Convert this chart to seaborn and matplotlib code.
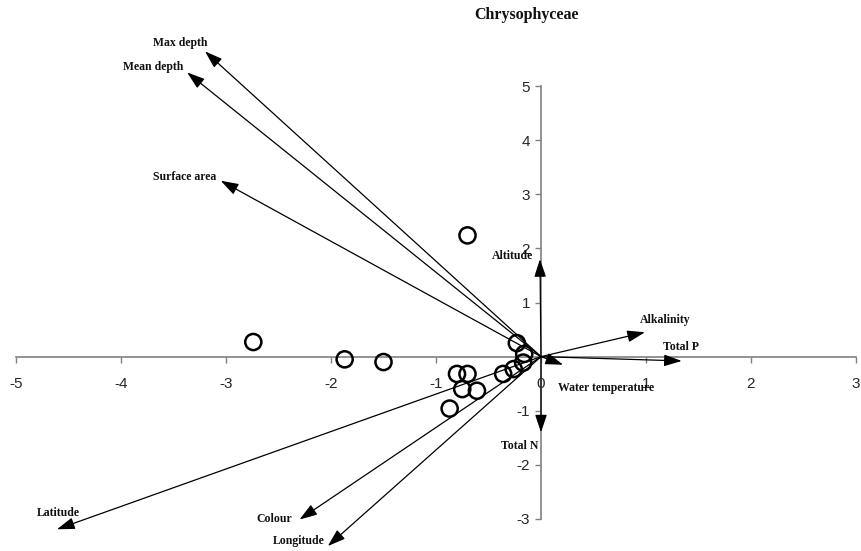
import matplotlib
matplotlib.use('Agg')
import matplotlib.pyplot as plt
import seaborn as sns
import pandas as pd

# Site scores (open circles)
site_x = [-0.70, -2.74, -1.87, -1.50, -0.23, -0.16, -0.17, -0.26, -0.36,
          -0.80, -0.70, -0.75, -0.61, -0.87]
site_y = [2.24, 0.27, -0.05, -0.10, 0.25, 0.05, -0.11, -0.23, -0.32,
          -0.32, -0.32, -0.60, -0.63, -0.96]

# Environmental vectors
var_names = ['Max depth', 'Mean depth', 'Surface area', 'Altitude', 'Alkalinity',
             'Total P', 'Water temperature', 'Total N', 'Latitude', 'Colour', 'Longitude']
var_x = [-3.20, -3.37, -3.05, -0.01, 0.99, 1.34, 0.21, 0.00, -4.61, -2.30, -2.03]
var_y = [5.64, 5.25, 3.25, 1.80, 0.45, -0.08, -0.15, -1.40, -3.19, -3.01, -3.50]

x_ticks = [-5, -4, -3, -2, -1, 0, 1, 2, 3]
y_ticks = [-3, -2, -1, 1, 2, 3, 4, 5]

# label placement relative to arrow tip (pixels) and alignment
label_offsets = [(3, 8), (-4, 5), (-4, 4), (-7, 3), (-5, 12), (-1, 14),
                 (-5, -23), (-3, -14), (1, 16), (-7, 1), (-3, 5)]
label_ha = ['right', 'right', 'right', 'right', 'left', 'center',
            'left', 'right', 'center', 'right', 'right']

df_sites = pd.DataFrame({'Axis 1': site_x, 'Axis 2': site_y})

sns.set_style('white')
plt.rcParams['font.family'] = ['Liberation Sans', 'DejaVu Sans']
plt.rcParams['axes.unicode_minus'] = False

fig = plt.figure(figsize=(8.62, 5.51), dpi=100)
ax = fig.add_axes([16 / 862, 32 / 551, 840 / 862, 433 / 551])

axis_grey = '#808080'

# arrows for environmental variables
for name, vx, vy, off, ha in zip(var_names, var_x, var_y, label_offsets, label_ha):
    ax.annotate('', xy=(vx, vy), xytext=(0, 0),
                arrowprops=dict(arrowstyle='-|>,head_length=0.6,head_width=0.2',
                                color='black', lw=0.9, mutation_scale=18,
                                shrinkA=0, shrinkB=0),
                annotation_clip=False)
    ax.annotate(name, xy=(vx, vy), xytext=off, textcoords='offset pixels',
                ha=ha, va='center', fontsize=8.5, fontweight='bold',
                family='Liberation Serif', color='#111111', annotation_clip=False)

sns.scatterplot(data=df_sites, x='Axis 1', y='Axis 2', ax=ax, s=135,
                marker='o', facecolors='none', edgecolors='black',
                linewidths=1.8, zorder=3)

ax.set_xlim(-5, 3)
ax.set_ylim(-3, 5)
ax.set_xticks(x_ticks)
ax.set_yticks(y_ticks)
ax.set_xlabel('')
ax.set_ylabel('')

for side in ['top', 'right']:
    ax.spines[side].set_visible(False)
ax.spines['left'].set_position(('data', 0))
ax.spines['bottom'].set_position(('data', 0))
for side in ['left', 'bottom']:
    ax.spines[side].set_color(axis_grey)
    ax.spines[side].set_linewidth(1.2)
    ax.spines[side].set_zorder(1)

ax.tick_params(axis='x', direction='out', length=4, width=1, color=axis_grey,
               labelsize=11, pad=11, bottom=True)
ax.tick_params(axis='y', direction='out', length=4, width=1, color=axis_grey,
               labelsize=11, pad=4, left=True)

fig.text(527 / 862, 1 - 15 / 551, 'Chrysophyceae', ha='center', va='center',
         fontsize=11.5, fontweight='bold', family='Liberation Serif', color='#111111')

fig.savefig('out.png', dpi=100)
